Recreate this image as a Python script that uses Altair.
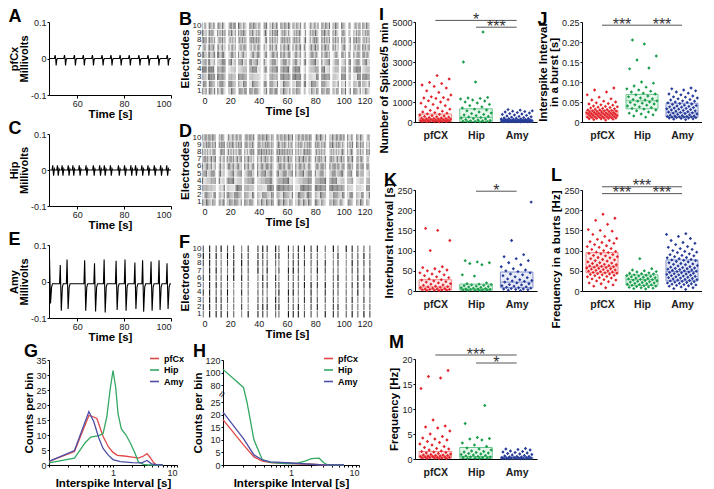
import altair as alt
import pandas as pd

FONT = "Liberation Sans, Arial, sans-serif"
LETTER_FONT = "Liberation Sans, Arial, sans-serif"

# ---------------- data ----------------
# voltage traces: spike times [s] and one-cycle waveform (offset [s], mV)
A_spikes = [50.6, 54.6, 58.8, 62.6, 66.5, 70.6, 74.4, 78.3, 82.2, 86.3, 90.2, 94.4, 98.4]
A_shape_dt = [-0.3, 0.0, 0.25, 0.45, 0.7, 1.0]
A_shape_v = [0.0, 0.009, 0.0, -0.019, -0.004, 0.0]

C_spikes = [49.5, 51.5, 53.5, 56.1, 58.1, 60.8, 63.7, 66.8, 69.5, 71.5, 74.1, 77.5,
            80.1, 82.8, 84.8, 87.5, 90.1, 92.8, 95.5, 98.1]
C_shape_dt = [-0.2, 0.1, 0.45, 0.8, 1.0]
C_shape_v = [0.0, 0.013, -0.016, 0.003, 0.0]

E_spikes = [48.2, 52.8, 55.7, 63.2, 67.4, 71.5, 76.6, 80.4, 84.6, 87.9, 91.5, 94.9, 98.3]
E_shape_dt = [-0.3, 0.0, 0.45, 0.9, 1.3]
E_shape_v = [-0.006, 0.06, -0.083, -0.015, -0.006]
E_peaks = [0.068, 0.045, 0.060, 0.058, 0.050, 0.060, 0.057, 0.060, 0.052, 0.058, 0.055, 0.058, 0.050]
E_troughs = [-0.060, -0.080, -0.075, -0.080, -0.082, -0.085, -0.078, -0.080, -0.075, -0.083,
             -0.080, -0.078, -0.075]

# raster spike times [s]
electrodes = list(range(1, 11))
B_times = [0.3, 1.2, 2.1, 2.9, 4.5, 5.4, 6.3, 7.1, 8.0, 8.9, 11.0, 11.8, 12.7, 13.6, 14.5,
           15.3, 16.2, 19.0, 19.9, 20.8, 21.7, 22.6, 23.5, 25.8, 26.7, 27.6, 28.5, 29.4,
           30.3, 31.2, 33.8, 34.7, 35.6, 36.5, 37.4, 38.3, 39.2, 40.1, 41.0, 43.9, 44.8,
           45.6, 48.0, 48.9, 49.8, 50.7, 51.6, 52.5, 53.3, 55.7, 56.6, 57.5, 58.4, 59.3,
           60.2, 61.1, 62.0, 64.2, 65.1, 66.0, 66.9, 67.8, 68.7, 69.6, 72.2, 73.1, 75.6,
           76.5, 77.4, 78.3, 79.2, 80.1, 81.0, 81.9, 84.6, 85.5, 86.4, 87.3, 88.2, 89.1,
           90.0, 92.5, 93.4, 94.3, 95.2, 96.1, 98.6, 99.5, 100.4, 101.3, 103.8, 104.7,
           107.2, 108.1, 109.0, 109.9, 110.8, 111.7, 113.5, 114.4, 115.3, 116.2, 117.1, 118.0]
D_times = [0.4, 1.3, 2.2, 3.1, 4.0, 4.9, 5.8, 6.7, 7.6, 8.5, 9.4, 12.2, 13.1, 14.0, 14.9,
           15.7, 17.8, 18.7, 19.6, 20.5, 21.4, 22.3, 23.2, 24.1, 25.0, 25.9, 26.8, 27.7,
           30.2, 31.1, 32.0, 32.9, 33.8, 34.7, 35.6, 36.5, 39.3, 40.2, 41.1, 42.0, 42.9,
           43.8, 44.7, 45.6, 46.5, 47.4, 48.3, 49.2, 50.2, 53.0, 53.9, 54.8, 55.7, 56.6,
           57.5, 58.4, 59.3, 60.2, 61.1, 62.0, 62.9, 63.8, 66.2, 67.1, 68.0, 68.9, 69.8,
           70.7, 71.6, 72.5, 73.4, 74.3, 75.2, 76.1, 77.0, 80.0, 80.9, 81.8, 82.7, 83.6,
           84.5, 85.4, 86.3, 87.2, 90.3, 91.2, 92.1, 93.0, 93.9, 94.8, 95.7, 96.6, 97.5,
           98.4, 99.3, 100.2, 102.7, 103.6, 104.5, 105.4, 106.3, 109.2, 110.1, 111.0,
           111.9, 112.8, 113.7, 116.3, 117.2, 118.1]
F_times = [0.9, 5.4, 10.0, 13.5, 18.0, 22.4, 28.0, 32.6, 39.5, 42.9, 46.0, 52.0, 54.3,
           61.0, 64.4, 68.0, 72.3, 77.0, 81.4, 87.0, 92.7, 96.0, 101.8, 106.0, 110.0,
           114.3, 118.5]

# ISI histograms (interval [s], counts per bin)
ISI_series = ["pfCx", "Hip", "Amy"]
G_pfcx_x = [0.1, 0.25, 0.42, 0.5, 0.56, 0.7, 0.85, 1.0, 1.17, 1.5, 2.0, 2.5, 3.0, 3.4, 3.8, 4.3, 4.8, 6.0]
G_pfcx_y = [1.2, 4.5, 16.5, 16.0, 15.5, 9.5, 6.0, 4.2, 3.2, 3.0, 2.6, 2.3, 3.0, 3.8, 2.5, 0.8, 0.0, 0.0]
G_hip_x = [0.1, 0.25, 0.37, 0.45, 0.6, 0.7, 0.8, 0.9, 1.0, 1.1, 1.2, 1.35, 1.6, 1.9, 2.2, 2.5, 3.0, 3.5, 6.0]
G_hip_y = [0.7, 2.3, 7.5, 9.3, 9.8, 10.5, 16.0, 25.0, 31.5, 26.0, 17.0, 12.0, 10.0, 7.0, 4.0, 1.0, 0.2, 0.0, 0.0]
G_amy_x = [0.1, 0.25, 0.42, 0.5, 0.6, 0.7, 0.85, 1.0, 1.3, 2.0, 2.8, 3.4, 4.0, 5.0, 6.0]
G_amy_y = [1.2, 4.8, 17.8, 14.5, 9.0, 5.5, 3.2, 1.8, 1.1, 0.8, 0.7, 1.5, 0.4, 0.0, 0.0]

H_pfcx_x = [0.1, 0.2, 0.285, 0.38, 0.5, 1.0, 2.0, 3.0, 6.0]
H_pfcx_y = [18.0, 8.0, 3.2, 1.5, 1.0, 0.6, 0.3, 0.0, 0.0]
H_hip_x = [0.1, 0.2, 0.225, 0.285, 0.38, 0.5, 0.8, 1.2, 1.6, 2.0, 2.6, 3.0, 3.5, 6.0]
H_hip_y = [105.0, 72.0, 25.0, 10.0, 2.0, 1.0, 0.6, 0.6, 1.5, 2.5, 2.7, 1.0, 0.0, 0.0]
H_amy_x = [0.1, 0.2, 0.285, 0.38, 0.5, 1.0, 2.0, 3.0, 6.0]
H_amy_y = [21.0, 10.5, 4.0, 2.0, 1.2, 0.8, 0.3, 0.0, 0.0]
H_break_x = [0.1]
H_break_y = [52]

# group scatter panels
groups = ["pfCX", "Hip", "Amy"]

I_pfcx = [2320, 2150, 1980, 1920, 1850, 1780, 1700, 1560, 1480, 1350, 1260, 1220, 1200, 1180,
          1120, 1060, 1000, 940, 880, 820, 760, 700, 640, 580, 540, 500, 470, 440, 410, 380,
          350, 320, 300, 280, 260, 240, 220, 200, 190, 180, 170, 160, 150, 140, 130, 120,
          110, 100, 95, 90, 80, 70, 65, 60, 50, 45, 40, 35, 30, 25, 20, 15, 10, 5]
I_hip = [4500, 3000, 2000, 1230, 1200, 1180, 1150, 1100, 1050, 1000, 950, 880, 820, 760, 700,
         640, 600, 560, 500, 450, 420, 380, 350, 320, 280, 250, 220, 200, 170, 150, 120, 100,
         80, 60, 50, 40, 30, 20, 15, 10]
I_amy = [620, 590, 560, 540, 520, 500, 470, 450, 420, 400, 380, 350, 330, 300, 280, 260, 240,
         220, 200, 190, 180, 170, 160, 150, 140, 130, 120, 110, 100, 95, 90, 85, 80, 75, 70,
         65, 60, 55, 50, 48, 45, 42, 40, 38, 35, 32, 30, 28, 25, 22, 20, 18, 15, 12, 10, 8, 5]
I_box_q1 = [30, 20, 5]
I_box_med = [150, 230, 40]
I_box_q3 = [400, 660, 120]

J_pfcx = [0.085, 0.080, 0.075, 0.068, 0.062, 0.058, 0.055, 0.052, 0.050, 0.048, 0.046, 0.045,
          0.043, 0.042, 0.040, 0.039, 0.038, 0.037, 0.036, 0.035, 0.034, 0.033, 0.032, 0.031,
          0.030, 0.030, 0.029, 0.028, 0.028, 0.027, 0.026, 0.026, 0.025, 0.025, 0.024, 0.024,
          0.023, 0.023, 0.022, 0.022, 0.021, 0.021, 0.020, 0.020, 0.019, 0.019, 0.018, 0.018,
          0.017, 0.017, 0.016, 0.016, 0.015, 0.015, 0.014, 0.014, 0.013, 0.013, 0.012, 0.012,
          0.011, 0.011, 0.010, 0.010, 0.009, 0.009, 0.008, 0.008, 0.007, 0.006, 0.005]
J_hip = [0.205, 0.195, 0.165, 0.155, 0.135, 0.133, 0.100, 0.097, 0.090, 0.087, 0.083, 0.080,
         0.077, 0.075, 0.072, 0.070, 0.068, 0.065, 0.063, 0.060, 0.058, 0.056, 0.055, 0.053,
         0.052, 0.050, 0.049, 0.047, 0.045, 0.043, 0.042, 0.040, 0.038, 0.036, 0.034, 0.032,
         0.030, 0.028, 0.025, 0.022, 0.020, 0.018, 0.015, 0.012]
J_amy = [0.085, 0.083, 0.080, 0.078, 0.075, 0.072, 0.070, 0.068, 0.065, 0.063, 0.062, 0.060,
         0.058, 0.056, 0.055, 0.053, 0.052, 0.050, 0.049, 0.048, 0.046, 0.045, 0.044, 0.042,
         0.041, 0.040, 0.039, 0.038, 0.037, 0.036, 0.035, 0.034, 0.033, 0.032, 0.031, 0.030,
         0.029, 0.028, 0.027, 0.026, 0.025, 0.024, 0.023, 0.022, 0.021, 0.020, 0.019, 0.018,
         0.017, 0.016, 0.015, 0.015, 0.014, 0.014, 0.013, 0.013, 0.012, 0.012, 0.011, 0.011,
         0.010, 0.010, 0.009, 0.008, 0.007, 0.006]
J_box_q1 = [0.012, 0.033, 0.012]
J_box_med = [0.020, 0.053, 0.023]
J_box_q3 = [0.029, 0.069, 0.047]

K_pfcx = [155, 150, 125, 100, 60, 58, 55, 52, 50, 48, 45, 42, 40, 38, 35, 33, 30, 28, 27, 25,
          23, 22, 20, 18, 17, 15, 14, 12, 11, 10, 9, 8, 7, 6, 5, 5, 4, 4, 3, 3, 2, 2, 1, 1]
K_hip = [75, 72, 70, 68, 65, 40, 37, 20, 18, 17, 16, 15, 14, 13, 12, 11, 10, 9, 8, 7, 6, 5, 5,
         4, 4, 3, 3, 2, 2, 1, 1]
K_amy = [220, 125, 90, 85, 80, 75, 70, 65, 60, 55, 52, 50, 48, 45, 42, 40, 38, 35, 33, 30, 28,
         26, 25, 24, 22, 20, 18, 16, 15, 13, 12, 10, 9, 8, 7, 6, 5, 5, 4, 3, 2, 1]
K_box_q1 = [3, 2, 8]
K_box_med = [10, 5, 22]
K_box_q3 = [28, 17, 47]

L_pfcx = [190, 180, 175, 165, 152, 150, 148, 140, 135, 130, 128, 125, 122, 120, 118, 115, 112,
          110, 108, 105, 103, 100, 98, 96, 95, 93, 92, 90, 88, 87, 85, 83, 82, 80, 78, 77, 75,
          74, 72, 70, 69, 68, 66, 65, 64, 63, 62, 61, 60, 59, 58, 57, 56, 55, 54, 53, 52, 51,
          50, 49, 48, 47, 46, 45, 44, 43, 42, 41, 40, 39, 38, 36, 35, 33, 32, 30, 28, 27, 25,
          23, 20, 18, 15, 12, 8]
L_hip = [80, 55, 52, 50, 48, 47, 45, 44, 43, 42, 40, 39, 38, 37, 36, 35, 34, 33, 32, 31, 30,
         29, 28, 27, 26, 25, 24, 23, 22, 21, 20, 19, 18, 17, 16, 15, 14, 13, 12, 11, 10, 9, 8,
         7, 6, 5]
L_amy = [142, 140, 135, 130, 125, 120, 118, 115, 110, 108, 105, 103, 100, 98, 96, 95, 92, 90,
         88, 87, 85, 83, 82, 80, 78, 77, 76, 75, 73, 72, 70, 68, 67, 66, 65, 63, 62, 60, 59,
         58, 57, 56, 55, 54, 53, 52, 51, 50, 49, 48, 47, 46, 45, 44, 43, 42, 41, 40, 39, 38,
         37, 36, 35, 34, 33, 32, 31, 30, 29, 28, 27, 26, 25, 24, 23, 22, 21, 20, 19, 18, 17,
         16, 15, 14, 13, 12, 10, 8, 6, 4]
L_box_q1 = [45, 14, 25]
L_box_med = [60, 28, 48]
L_box_q3 = [95, 40, 77]

M_pfcx = [17.7, 16.5, 16.2, 14.1, 7.8, 6.6, 6.4, 6.2, 5.6, 5.0, 4.5, 4.2, 4.0, 3.8, 3.5, 3.3,
          3.0, 2.8, 2.5, 2.3, 2.1, 2.0, 1.8, 1.6, 1.5, 1.4, 1.3, 1.2, 1.1, 1.0, 0.9, 0.8, 0.8,
          0.7, 0.7, 0.6, 0.6, 0.5, 0.5, 0.4, 0.4, 0.3, 0.3, 0.3, 0.2, 0.2, 0.2, 0.1, 0.1, 0.1]
M_hip = [10.7, 7.1, 4.3, 4.1, 4.0, 3.8, 3.2, 2.8, 2.5, 2.2, 2.0, 1.8, 1.6, 1.5, 1.4, 1.3, 1.2,
         1.1, 1.0, 0.9, 0.8, 0.7, 0.6, 0.5, 0.4, 0.4, 0.3, 0.3, 0.2, 0.2, 0.1, 0.1]
M_amy = [2.1, 2.0, 1.9, 1.8, 1.6, 1.5, 1.4, 1.3, 1.2, 1.1, 1.0, 0.9, 0.8, 0.7, 0.6, 0.5, 0.5,
         0.4, 0.4, 0.3, 0.3, 0.3, 0.2, 0.2, 0.2, 0.2, 0.1, 0.1, 0.1, 0.1, 0.05, 0.05]
M_box_q1 = [0.2, 0.1, 0.05]
M_box_med = [0.6, 0.5, 0.15]
M_box_q3 = [1.5, 2.3, 0.35]

# significance bars: (from, to, level, label)
I_sig = [("pfCX", "Amy", 5080, "*"), ("Hip", "Amy", 4740, "***")]
J_sig = [("pfCX", "Hip", 0.242, "***"), ("Hip", "Amy", 0.242, "***")]
K_sig = [("Hip", "Amy", 247, "*")]
L_sig = [("pfCX", "Amy", 258, "***"), ("pfCX", "Hip", 241, "***"), ("Hip", "Amy", 241, "***")]
M_sig = [("pfCX", "Amy", 20.8, "***"), ("Hip", "Amy", 19.2, "*")]

# ---------------- styling ----------------
PT_COLORS = ["#e3262d", "#1b9e4b", "#263c98"]
BOX_STROKE = ["#f08a8a", "#6cc68f", "#8593cf"]
BOX_FILL = ["#fde9e9", "#e6f6ec", "#e9ecf8"]
LINE_COLORS = ["#e04848", "#33a862", "#4d4fa6"]
AX_TITLE = 11.5
AX_LABEL = 9


def letter(t, off):
    return alt.TitleParams(t, anchor="start", frame="bounds", fontSize=18, fontWeight="bold",
                           font=LETTER_FONT, offset=off, color="black")


def trace_df(spikes, dts, vs, base, peaks=None, troughs=None):
    t, v = [46.0], [base]
    for k, s in enumerate(spikes):
        shape = list(vs)
        if peaks is not None:
            shape[1] = peaks[k]
            shape[2] = troughs[k]
        for d, a in zip(dts, shape):
            t.append(s + d)
            v.append(a)
    t.append(101.0)
    v.append(base)
    return pd.DataFrame({"t": t, "v": v}).sort_values("t")


def trace_panel(df, ytitle, let, off, h):
    return alt.Chart(df).mark_line(color="black", strokeWidth=1.1, clip=True).encode(
        x=alt.X("t:Q", scale=alt.Scale(domain=[48, 100], nice=False, zero=False),
                axis=alt.Axis(values=[60, 80, 100], title="Time [s]", titlePadding=0,
                              labelPadding=1)),
        y=alt.Y("v:Q", scale=alt.Scale(domain=[-0.1, 0.1], nice=False),
                axis=alt.Axis(values=[-0.1, 0, 0.1], labelExpr="toString(datum.value)",
                              title=ytitle, titleLineHeight=10, titlePadding=1,
                              titleFontSize=11, labelPadding=1, tickSize=2)),
    ).properties(width=122, height=h, title=letter(let, off))


def raster_panel(times, let, off, h, op_base, op_range):
    df = pd.DataFrame([{"e": e, "t": t} for e in electrodes for t in times])
    return alt.Chart(df).transform_calculate(
        op=f"{op_base} + {op_range} * ((datum.t * 0.7313 + datum.e * 0.3771 + datum.t * datum.e * 0.1137) % 1)"
    ).mark_tick(color="black", thickness=1.1, size=6.5).encode(
        x=alt.X("t:Q", scale=alt.Scale(domain=[0, 120], nice=False),
                axis=alt.Axis(values=list(range(0, 121, 20)), title="Time [s]", domain=False,
                              ticks=False, labelPadding=1, titlePadding=0)),
        y=alt.Y("e:O", sort="descending", scale=alt.Scale(paddingInner=0, paddingOuter=0),
                axis=alt.Axis(title="Electrodes", domain=False, ticks=False, labelPadding=1,
                              labelFontSize=8, titlePadding=2)),
        opacity=alt.Opacity("op:Q", scale=None, legend=None),
    ).properties(width=170, height=h, title=letter(let, off))


LOG_TICKS = [0.1, 0.2, 0.3, 0.4, 0.5, 0.6, 0.7, 0.8, 0.9, 1, 2, 3, 4, 5, 6, 7, 8, 9, 10]


def isi_panel(xs, ys, yscale, yaxis, let, off, w, h, lx, brk=None):
    rows = []
    for name, xx, yy in zip(ISI_series, xs, ys):
        for a, b in zip(xx, yy):
            rows.append({"s": name, "x": a, "y": b})
    df = pd.DataFrame(rows)
    xenc = alt.X("x:Q", scale=alt.Scale(type="log", domain=[0.1, 10], nice=False),
                 axis=alt.Axis(values=LOG_TICKS, labelOverlap=False, tickSize=2,
                               labelExpr="datum.value == 1 || datum.value == 10 ? toString(datum.value) : ''",
                               title="Interspike Interval [s]", titlePadding=0, labelPadding=1))
    yenc = alt.Y("y:Q", scale=yscale, axis=yaxis)
    lines = alt.Chart(df).mark_line(strokeWidth=1.3).encode(
        x=xenc, y=yenc,
        color=alt.Color("s:N", scale=alt.Scale(domain=ISI_series, range=LINE_COLORS),
                        legend=alt.Legend(orient="none", legendX=lx, legendY=-7, title=None,
                                          symbolType="stroke", symbolStrokeWidth=1.6,
                                          symbolSize=80, labelFontSize=9,
                                          labelFontWeight="bold", rowPadding=0.5,
                                          labelFont=FONT, padding=0)),
        order=alt.Order("x:Q"),
    )
    layers = [lines]
    if brk is not None:
        bdf = pd.DataFrame({"x": brk[0], "y": brk[1]})
        layers.append(alt.Chart(bdf).mark_text(text="≈", fontSize=11, angle=300,
                                               color="black", dx=-1).encode(x=xenc, y=yenc))
    return alt.layer(*layers).properties(width=w, height=h, title=letter(let, off))


def dot_panel(vals, q1, med, q3, sig, dom, ticks, ytitle, let, off, w, h,
              label_expr=None, fmt=None, tanchor=None):
    rows = []
    for gi, (g, vv) in enumerate(zip(groups, vals)):
        for v in vv:
            rows.append({"g": g, "gi": gi, "v": v})
    df = pd.DataFrame(rows)
    box = pd.DataFrame({"g": groups, "gi": [0, 1, 2], "q1": q1, "med": med, "q3": q3})
    sg = pd.DataFrame([{"a": groups.index(a), "b": groups.index(b), "y": y, "lab": lab}
                       for a, b, y, lab in sig])
    xs = alt.Scale(domain=[-0.5, 2.5], nice=False, zero=False)
    ys = alt.Scale(domain=dom, nice=False, zero=False)
    yax_kw = dict(values=ticks, title=ytitle, titlePadding=2, tickSize=2, labelPadding=1,
                  titleLineHeight=11)
    if label_expr:
        yax_kw["labelExpr"] = label_expr
    if fmt:
        yax_kw["format"] = fmt
    if tanchor:
        yax_kw["titleAnchor"] = tanchor
    yaxis = alt.Axis(**yax_kw)
    xaxis = alt.Axis(values=[0, 1, 2], labelExpr="['pfCX','Hip','Amy'][datum.value]",
                     ticks=False, title=None, labelFontWeight="bold", labelFontSize=10.5,
                     labelPadding=8)
    boxes = alt.Chart(box).transform_calculate(
        xl="datum.gi - 0.4", xr="datum.gi + 0.4"
    ).mark_rect(strokeWidth=1).encode(
        x=alt.X("xl:Q", scale=xs, axis=xaxis),
        x2="xr:Q",
        y=alt.Y("q1:Q", scale=ys, axis=yaxis),
        y2="q3:Q",
        fill=alt.Fill("g:N", scale=alt.Scale(domain=groups, range=BOX_FILL), legend=None),
        stroke=alt.Stroke("g:N", scale=alt.Scale(domain=groups, range=BOX_STROKE), legend=None),
    )
    medians = alt.Chart(box).transform_calculate(
        xl="datum.gi - 0.4", xr="datum.gi + 0.4"
    ).mark_rule(strokeWidth=1).encode(
        x=alt.X("xl:Q", scale=xs, axis=xaxis), x2="xr:Q",
        y=alt.Y("med:Q", scale=ys, axis=yaxis),
        color=alt.Color("g:N", scale=alt.Scale(domain=groups, range=BOX_STROKE), legend=None),
    )
    pts = alt.Chart(df).transform_window(
        rn="row_number()", groupby=["g"], sort=[alt.SortField("v", order="ascending")]
    ).transform_calculate(
        xj="datum.gi + 0.78 * (((datum.rn * 0.618034) % 1) - 0.5)"
    ).mark_point(shape="diamond", filled=True, size=11, opacity=1).encode(
        x=alt.X("xj:Q", scale=xs, axis=xaxis),
        y=alt.Y("v:Q", scale=ys, axis=yaxis),
        color=alt.Color("g:N", scale=alt.Scale(domain=groups, range=PT_COLORS), legend=None),
    )
    rules = alt.Chart(sg).mark_rule(color="#555", strokeWidth=1).encode(
        x=alt.X("a:Q", scale=xs, axis=xaxis), x2="b:Q",
        y=alt.Y("y:Q", scale=ys, axis=yaxis),
    )
    txt = alt.Chart(sg).transform_calculate(
        xm="(datum.a + datum.b) / 2"
    ).mark_text(fontSize=16, color="#333", font=LETTER_FONT, baseline="alphabetic", dy=4.5).encode(
        x=alt.X("xm:Q", scale=xs, axis=xaxis),
        y=alt.Y("y:Q", scale=ys, axis=yaxis),
        text="lab:N",
    )
    return alt.layer(boxes, medians, pts, rules, txt).resolve_scale(
        color="independent"
    ).properties(width=w, height=h, title=letter(let, off))


# ---------------- panels ----------------
A = trace_panel(trace_df(A_spikes, A_shape_dt, A_shape_v, 0.0), ["pfCx", "Millivolts"], "A", -8, 73)
C = trace_panel(trace_df(C_spikes, C_shape_dt, C_shape_v, 0.0), ["Hip", "Millivolts"], "C", -8, 72)
E = trace_panel(trace_df(E_spikes, E_shape_dt, E_shape_v, -0.006, E_peaks, E_troughs),
                ["Amy", "Millivolts"], "E", -8, 73)

B = raster_panel(B_times, "B", -8, 73, 0.1, 0.5)
D = raster_panel(D_times, "D", -8, 72, 0.1, 0.5)
F = raster_panel(F_times, "F", -8, 73, 0.45, 0.55)

G = isi_panel([G_pfcx_x, G_hip_x, G_amy_x], [G_pfcx_y, G_hip_y, G_amy_y],
              alt.Scale(domain=[0, 35], nice=False),
              alt.Axis(values=list(range(0, 36, 5)), title="Counts per bin", titlePadding=1,
                       tickSize=2, labelPadding=1),
              "G", -8, 128, 105, 100)
H = isi_panel([H_pfcx_x, H_hip_x, H_amy_x], [H_pfcx_y, H_hip_y, H_amy_y],
              alt.Scale(domain=[0, 25, 80, 120], range=[105, 42, 25, 0], nice=False, zero=False),
              alt.Axis(values=[0, 5, 10, 15, 20, 25, 80, 100, 120], title="Counts per bin",
                       titlePadding=1, tickSize=2, labelPadding=1),
              "H", -8, 136, 105, 100, brk=(H_break_x, H_break_y))

I = dot_panel([I_pfcx, I_hip, I_amy], I_box_q1, I_box_med, I_box_q3, I_sig, [0, 5000],
              list(range(0, 5001, 1000)), "Number of Spikes/5 min", "I", -12, 122, 100,
              fmt="d", tanchor="end")
J = dot_panel([J_pfcx, J_hip, J_amy], J_box_q1, J_box_med, J_box_q3, J_sig, [0, 0.25],
              [0, 0.05, 0.10, 0.15, 0.20, 0.25], ["Interspike Interval", "in a burst [s]"],
              "J", -12, 120, 100,
              label_expr="datum.value == 0 ? '0' : format(datum.value, '.2f')")
K = dot_panel([K_pfcx, K_hip, K_amy], K_box_q1, K_box_med, K_box_q3, K_sig, [0, 250],
              list(range(0, 251, 50)), "Interburst Interval [s]", "K", -7, 122, 101)
L = dot_panel([L_pfcx, L_hip, L_amy], L_box_q1, L_box_med, L_box_q3, L_sig, [0, 250],
              list(range(0, 251, 50)), "Frequency in a burts [Hz]", "L", -7, 120, 101,
              tanchor="end")
M = dot_panel([M_pfcx, M_hip, M_amy], M_box_q1, M_box_med, M_box_q3, M_sig, [0, 20],
              list(range(0, 21, 5)), "Frequency [Hz]", "M", -5, 122, 100)

IND = dict(color="independent")
row1 = alt.hconcat(A, B, spacing=31, bounds="flush").resolve_scale(**IND)
row2 = alt.hconcat(C, D, spacing=31, bounds="flush").resolve_scale(**IND)
row3 = alt.hconcat(E, F, spacing=31, bounds="flush").resolve_scale(**IND)
row4 = alt.hconcat(G, H, spacing=46, bounds="flush").resolve_scale(**IND).resolve_legend(**IND)
left = alt.vconcat(row1, row2, row3, row4, spacing=0).resolve_scale(**IND).resolve_legend(**IND)
col3 = alt.vconcat(I, K, M, spacing=68, bounds="flush").resolve_scale(**IND)
col4 = alt.vconcat(J, L, spacing=68, bounds="flush").resolve_scale(**IND)
right = alt.hconcat(col3, col4, spacing=0).resolve_scale(**IND)

chart = alt.hconcat(left, right, spacing=6).resolve_scale(**IND).resolve_legend(**IND).properties(
    padding={"left": 0, "top": -3, "right": 0, "bottom": 0}
).configure_view(stroke=None).configure_axis(
    labelFont=FONT, titleFont=FONT, labelFontSize=AX_LABEL, titleFontSize=AX_TITLE,
    titleFontWeight="bold", labelColor="#222", titleColor="black",
    domainColor="black", tickColor="black", tickSize=3, grid=False,
).configure_legend(labelFont=FONT)

chart.save("out.html", embed_options={"renderer": "svg", "actions": False})
